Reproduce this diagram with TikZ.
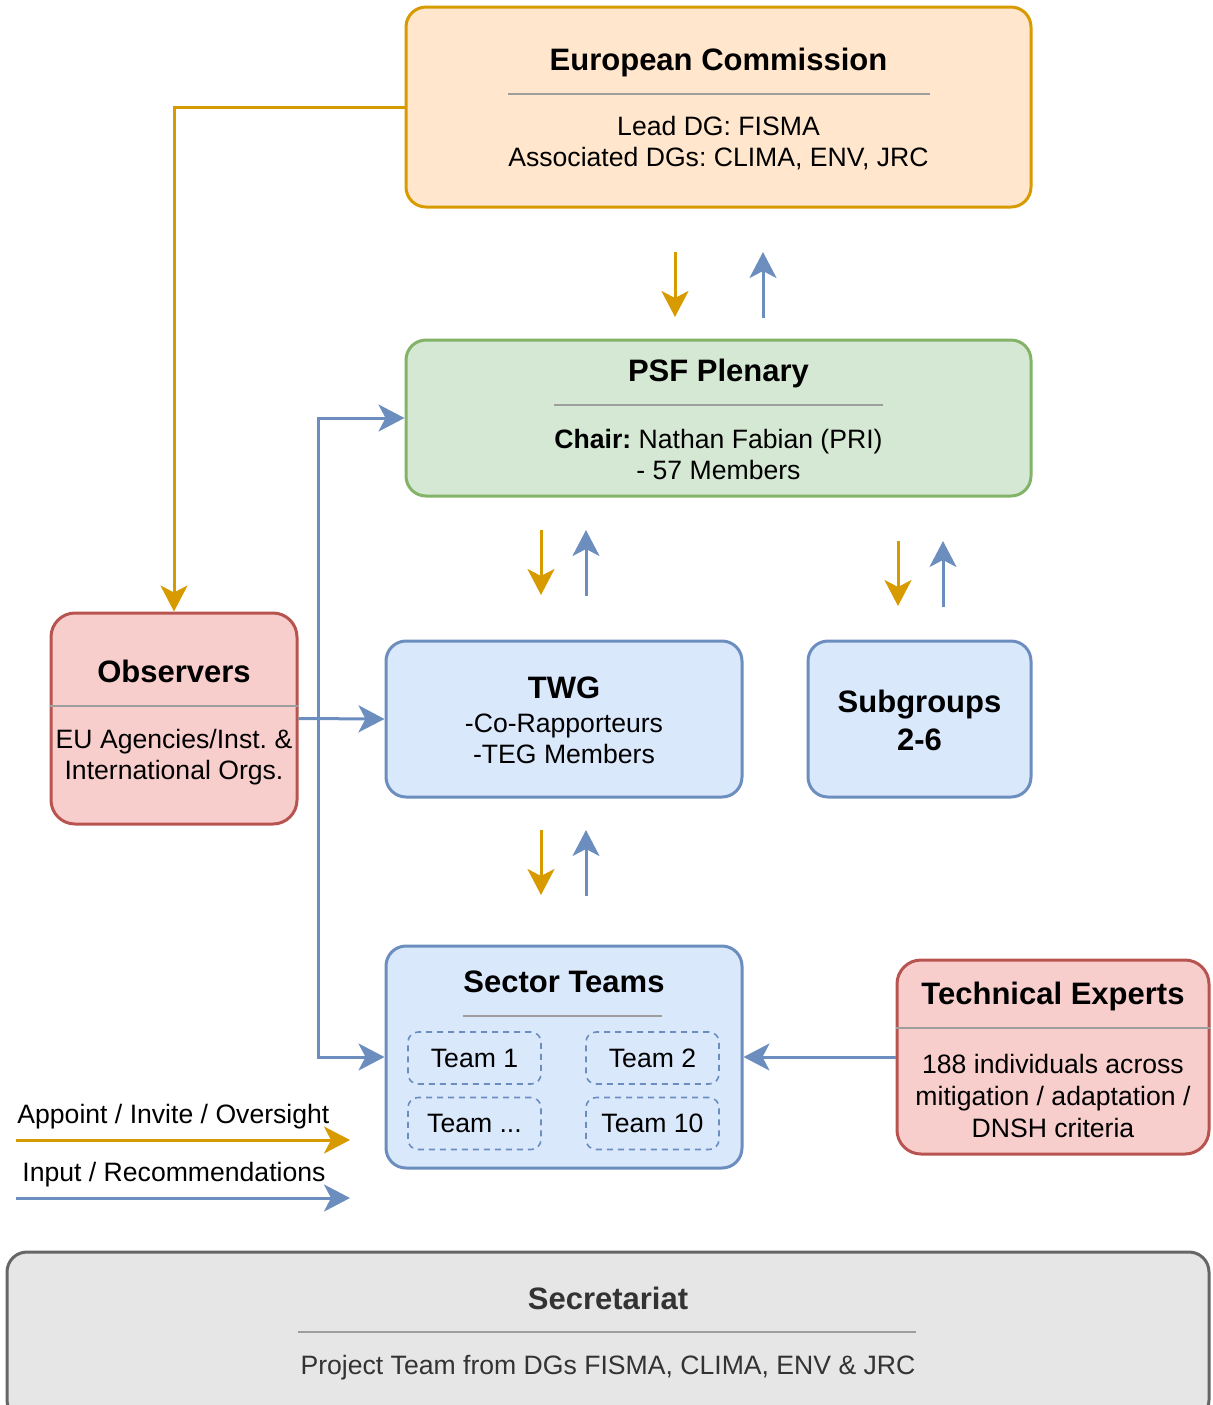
\documentclass[tikz,border=0pt]{standalone}
\usepackage{fontspec}
\setmainfont{Liberation Sans}
\usetikzlibrary{arrows.meta}
\frenchspacing

\definecolor{orangeline}{HTML}{D79B00}
\definecolor{orangefill}{HTML}{FFE6CC}
\definecolor{greenline}{HTML}{82B366}
\definecolor{greenfill}{HTML}{D5E8D4}
\definecolor{blueline}{HTML}{6C8EBF}
\definecolor{bluefill}{HTML}{DAE8FC}
\definecolor{redline}{HTML}{B85450}
\definecolor{redfill}{HTML}{F8CECC}
\definecolor{grayline}{HTML}{666666}
\definecolor{grayfill}{HTML}{E6E6E6}
\definecolor{rulegray}{HTML}{9E9E9E}
\definecolor{darktext}{HTML}{333333}

\begin{document}
\begin{tikzpicture}[
    x = 0.5pt, y = -0.5pt,
    %
    box/.style = {draw, line width = 1.5pt,
      rounded corners = 10pt, inner sep = 0pt},
    commission/.style = {box, draw = orangeline, fill = orangefill},
    plenary/.style = {box, draw = greenline, fill = greenfill},
    group/.style = {box, draw = blueline, fill = bluefill},
    outside/.style = {box, draw = redline, fill = redfill,
      rounded corners = 12pt},
    secretariat/.style = {box, draw = grayline, fill = grayfill},
    team/.style = {draw = blueline, line width = 0.8pt,
      dash pattern = on 3pt off 2.5pt, rounded corners = 5pt,
      minimum width = 66.5pt, minimum height = 26pt,
      font = \fontsize{13.3}{15.5}\selectfont},
    %
    heading/.style = {font = \fontsize{15.5}{19}\selectfont\bfseries,
      align = center, inner sep = 0pt},
    body/.style = {font = \fontsize{13.3}{15.5}\selectfont,
      align = center, inner sep = 0pt},
    separator/.style = {draw = rulegray, line width = 1pt},
    %
    appoint/.style = {draw = orangeline, line width = 1.5pt,
      -{Stealth[length = 13pt, width = 13.5pt, inset = 3.5pt]}},
    recommend/.style = {draw = blueline, line width = 1.5pt,
      -{Stealth[length = 13pt, width = 13.5pt, inset = 3.5pt]}},
    ]

    \useasboundingbox (0, 0) rectangle (1212, 1405);
    \clip (0, 0) rectangle (1212, 1405);

    % boxes
    \node at (718.5, 107)
    [commission, minimum width = 312.5pt, minimum height = 100pt, name = EC] {};
    \node at (718.5, 418)
    [plenary, minimum width = 312.5pt, minimum height = 78pt, name = PSF] {};
    \node at (174, 718.5)
    [outside, minimum width = 123pt, minimum height = 105.5pt, name = OBS] {};
    \node at (564, 719)
    [group, minimum width = 178pt, minimum height = 78pt, name = TWG] {};
    \node at (919.5, 719)
    [group, minimum width = 111.5pt, minimum height = 78pt, name = SUB] {};
    \node at (564, 1057)
    [group, minimum width = 178pt, minimum height = 111pt, name = ST] {};
    \node at (1053, 1057)
    [outside, minimum width = 156pt, minimum height = 97pt, name = TE] {};
    \node at (608, 1336)
    [secretariat, minimum width = 601pt, minimum height = 84pt, name = SEC] {};

    % texts
    \node at (718.5, 62) [heading, name = EC_t] {European Commission};
    \draw [separator] (508, 94) -- (930, 94);
    \node at (718.5, 143) [body, name = EC_b]
    {Lead DG: FISMA\\Associated DGs: CLIMA, ENV, JRC};

    \node at (718.5, 373) [heading, name = PSF_t] {PSF Plenary};
    \draw [separator] (554, 405) -- (883, 405);
    \node at (718.5, 454) [body, name = PSF_b]
    {\textbf{Chair:} Nathan Fabian (PRI)\\- 57 Members};

    \node at (174, 671) [heading, name = OBS_t] {Observers};
    \draw [separator] (OBS.west |- 0, 706) -- (OBS.east |- 0, 706);
    \node at (174, 757) [body, name = OBS_b]
    {EU Agencies/Inst. \&\\International Orgs.};

    \node at (564, 688) [heading, name = TWG_t] {TWG};
    \node at (564, 739) [body, name = TWG_b] {-Co-Rapporteurs\\-TEG Members};

    \node at (919.5, 720) [heading, name = SUB_t] {Subgroups\\2-6};

    \node at (564, 982) [heading, name = ST_t] {Sector Teams};
    \draw [separator] (463, 1016) -- (662, 1016);
    \node at (474.5, 1058) [team, name = T_1] {Team 1};
    \node at (652.5, 1058) [team, name = T_2] {Team 2};
    \node at (474.5, 1123.5) [team, name = T_x] {Team ...};
    \node at (652.5, 1123.5) [team, name = T_10] {Team 10};

    \node at (1053, 996) [heading, name = TE_t] {Technical Experts};
    \draw [separator] (TE.west |- 0, 1028) -- (TE.east |- 0, 1028);
    \node at (1053, 1096) [body, font = \fontsize{13.3}{16}\selectfont, name = TE_b]
    {188 individuals across\\mitigation / adaptation /\\DNSH criteria};

    \node at (608, 1298) [heading, text = darktext, name = SEC_t] {Secretariat};
    \draw [separator] (298, 1332) -- (916, 1332);
    \node at (608, 1368) [body, text = darktext, name = SEC_b]
    {Project Team from DGs FISMA, CLIMA, ENV \& JRC};

    % connectors
    \draw [appoint] (EC.west) -| (OBS.north);

    \coordinate (split) at (318, 718.5);
    \draw [recommend] (OBS.east) -- (TWG.west);
    \draw [recommend] (split) |- (PSF.west);
    \draw [recommend] (split) |- (ST.west);
    \draw [recommend] (TE.west) -- (ST.east);

    % short arrows between levels
    \coordinate (a1) at (675, 252);
    \coordinate (a2) at (675, 317);
    \coordinate (b1) at (763, 318);
    \coordinate (b2) at (763, 252);
    \draw [appoint] (a1) -- (a2);
    \draw [recommend] (b1) -- (b2);

    \coordinate (c1) at (541, 530);
    \coordinate (c2) at (541, 595);
    \coordinate (d1) at (586, 596);
    \coordinate (d2) at (586, 530);
    \draw [appoint] (c1) -- (c2);
    \draw [recommend] (d1) -- (d2);

    \coordinate (e1) at (898, 541);
    \coordinate (e2) at (898, 606);
    \coordinate (f1) at (943, 607);
    \coordinate (f2) at (943, 541);
    \draw [appoint] (e1) -- (e2);
    \draw [recommend] (f1) -- (f2);

    \coordinate (g1) at (541, 830);
    \coordinate (g2) at (541, 895);
    \coordinate (h1) at (586, 896);
    \coordinate (h2) at (586, 830);
    \draw [appoint] (g1) -- (g2);
    \draw [recommend] (h1) -- (h2);

    % legend
    \node at (17, 1117) [body, anchor = west, name = L_app]
    {Appoint / Invite / Oversight};
    \coordinate (la1) at (16, 1140);
    \coordinate (la2) at (350, 1140);
    \draw [appoint] (la1) -- (la2);

    \node at (22, 1175) [body, anchor = west, name = L_inp]
    {Input / Recommendations};
    \coordinate (lb1) at (16, 1198);
    \coordinate (lb2) at (350, 1198);
    \draw [recommend] (lb1) -- (lb2);

  \end{tikzpicture}
\end{document}
